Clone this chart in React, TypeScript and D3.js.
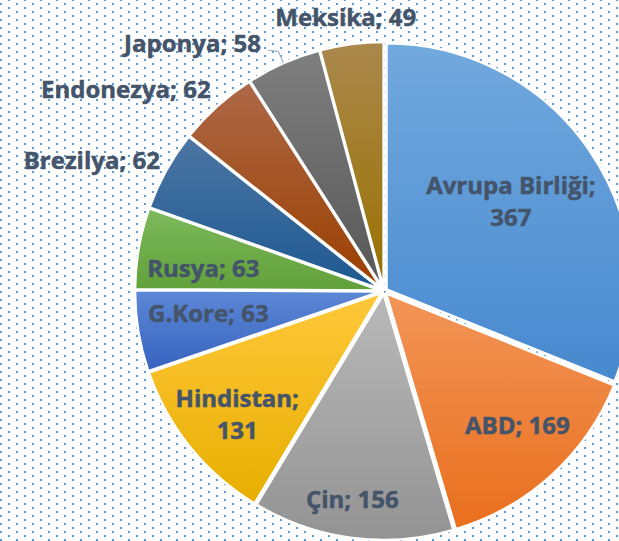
import React from 'react';
import * as d3 from 'd3';

const countries = ['Avrupa Birliği', 'ABD', 'Çin', 'Hindistan', 'G.Kore', 'Rusya', 'Brezilya', 'Endonezya', 'Japonya', 'Meksika'];
const values = [367, 169, 156, 131, 63, 63, 62, 62, 58, 49];
const topColors = ['#72a9de', '#f29558', '#b9b9b9', '#ffc83a', '#5d88d6', '#7cba5c', '#4c76a4', '#ad6847', '#7f7f7f', '#aa884c'];
const bottomColors = ['#4789cf', '#e96f1d', '#939393', '#e7ae00', '#3663bf', '#62a03a', '#1d5891', '#9b3f00', '#575757', '#997100'];

// label placement: radius factor and angle shift (degrees) per slice
const labelRadius = [0.63, 0.77, 0.86, 0.78, 0.72, 0.74, 1.30, 1.33, 1.27, 1.12];
const labelShift = [-1, -2.5, 1.3, -1.2, 2, -3, -5, -10, -14, -0.5];

const W = 619, H = 541;
const cx = 384, cy = 291, R = 246, explode = 3;

export default function App() {
  const pie = d3.pie<number>().sort(null).value(d => d);
  const arcs = pie(values);
  const arc = d3.arc<d3.PieArcDatum<number>>().innerRadius(0).outerRadius(R);
  const polar = (a: number, r: number): [number, number] => [Math.sin(a) * r, -Math.cos(a) * r];

  return (
    <svg width={W} height={H} style={{ position: 'absolute', left: 0, top: 0, display: 'block' }}
      fontFamily="'Open Sans', 'Noto Sans', sans-serif">
      <defs>
        <pattern id="dots" width={16} height={8} patternUnits="userSpaceOnUse">
          <rect x={0} y={3} width={2} height={2} fill="#5b9bd5" />
          <rect x={8} y={-1} width={2} height={2} fill="#5b9bd5" />
          <rect x={8} y={7} width={2} height={2} fill="#5b9bd5" />
        </pattern>
        {arcs.map((_, i) => (
          <linearGradient key={i} id={`g${i}`} x1={0} y1={0} x2={0} y2={1}>
            <stop offset="0%" stopColor={topColors[i]} />
            <stop offset="100%" stopColor={bottomColors[i]} />
          </linearGradient>
        ))}
      </defs>
      <rect width={W} height={H} fill="#ffffff" />
      <rect width={W} height={H} fill="url(#dots)" />
      <g transform={`translate(${cx},${cy})`}>
        {arcs.map((a, i) => {
          const mid = (a.startAngle + a.endAngle) / 2;
          const [ox, oy] = polar(mid, explode);
          return (
            <path key={i} d={arc(a) ?? ''} transform={`translate(${ox},${oy})`}
              fill={`url(#g${i})`} stroke="#ffffff" strokeWidth={2.5} strokeLinejoin="round" />
          );
        })}
        {(() => {
          // leader line for Japonya
          const a = arcs[8];
          const mid = (a.startAngle + a.endAngle) / 2;
          const p0 = polar(mid, R + 3);
          const p1 = polar(mid, R + 16);
          const p2: [number, number] = [p1[0] - 10, p1[1] - 1];
          return <polyline points={[p0, p1, p2].map(p => p.join(',')).join(' ')} fill="none" stroke="#a6b6cc" strokeWidth={1.3} />;
        })()}
        {arcs.map((a, i) => {
          const mid = (a.startAngle + a.endAngle) / 2 + labelShift[i] * Math.PI / 180;
          const [x, y] = polar(mid, labelRadius[i] * R);
          const twoLine = i === 0 || i === 3;
          const lines = twoLine ? [`${countries[i]};`, `${values[i]}`] : [`${countries[i]}; ${values[i]}`];
          return (
            <text key={i} x={x} y={y} textAnchor="middle" fontSize={24} fontWeight={700}
              fill="#44546a" stroke="#44546a" strokeWidth={0.5}>
              {lines.map((t, j) => (
                <tspan key={j} x={x} dy={j === 0 ? (twoLine ? -8 : 8) : 32}>{t}</tspan>
              ))}
            </text>
          );
        })}
      </g>
    </svg>
  );
}
